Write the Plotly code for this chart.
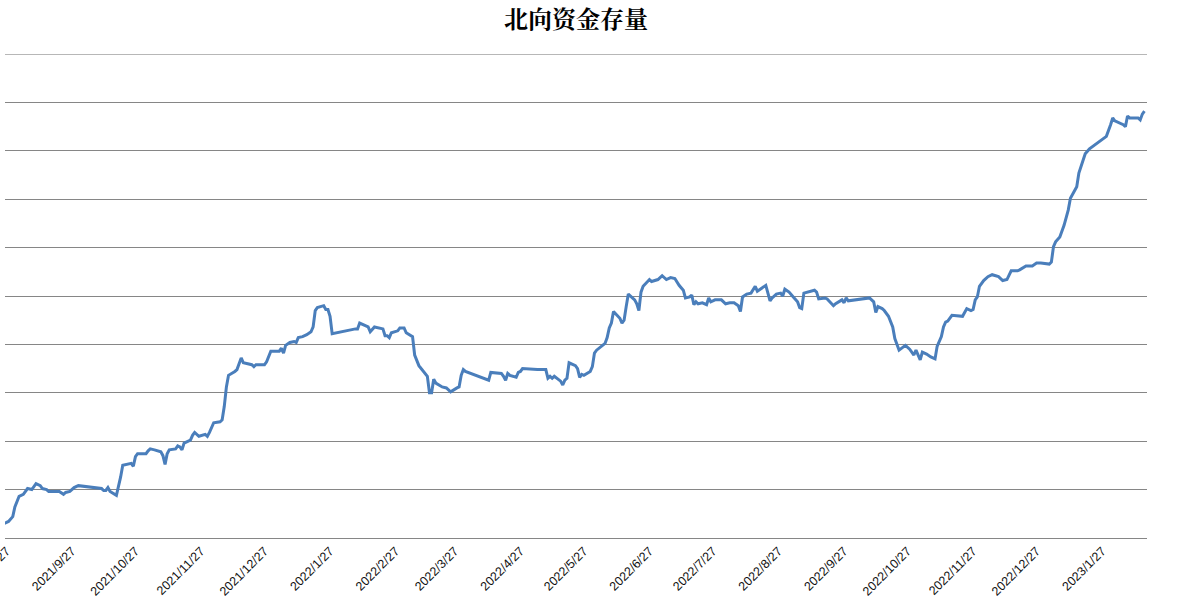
import plotly.graph_objects as go

# 北向资金存量 (亿元)
dates = [
    "2021-08-26", "2021-08-28", "2021-08-30", "2021-08-31", "2021-09-02", "2021-09-04",
    "2021-09-06", "2021-09-08", "2021-09-10", "2021-09-12", "2021-09-13", "2021-09-15",
    "2021-09-16", "2021-09-21", "2021-09-23", "2021-09-24", "2021-09-26", "2021-09-28",
    "2021-09-30", "2021-10-11", "2021-10-12", "2021-10-13", "2021-10-14", "2021-10-15",
    "2021-10-18", "2021-10-19", "2021-10-20", "2021-10-21", "2021-10-24", "2021-10-25",
    "2021-10-26", "2021-10-27", "2021-10-28", "2021-11-01", "2021-11-02", "2021-11-03",
    "2021-11-05", "2021-11-08", "2021-11-09", "2021-11-10", "2021-11-11", "2021-11-12",
    "2021-11-15", "2021-11-16", "2021-11-17", "2021-11-18", "2021-11-19", "2021-11-22",
    "2021-11-23", "2021-11-24", "2021-11-26", "2021-11-29", "2021-11-30", "2021-12-01",
    "2021-12-03", "2021-12-06", "2021-12-07", "2021-12-08", "2021-12-09", "2021-12-10",
    "2021-12-13", "2021-12-14", "2021-12-15", "2021-12-16", "2021-12-17", "2021-12-20",
    "2021-12-21", "2021-12-22", "2021-12-23", "2021-12-27", "2021-12-28", "2021-12-30",
    "2022-01-03", "2022-01-04", "2022-01-05", "2022-01-06", "2022-01-08", "2022-01-10",
    "2022-01-11", "2022-01-12", "2022-01-14", "2022-01-16", "2022-01-18", "2022-01-19",
    "2022-01-20", "2022-01-21", "2022-01-24", "2022-01-25", "2022-01-26", "2022-01-27",
    "2022-01-28", "2022-02-08", "2022-02-09", "2022-02-10", "2022-02-11", "2022-02-14",
    "2022-02-15", "2022-02-17", "2022-02-21", "2022-02-22", "2022-02-23", "2022-02-24",
    "2022-02-25", "2022-02-28", "2022-03-01", "2022-03-03", "2022-03-04", "2022-03-07",
    "2022-03-08", "2022-03-10", "2022-03-14", "2022-03-15", "2022-03-16", "2022-03-17",
    "2022-03-18", "2022-03-21", "2022-03-23", "2022-03-25", "2022-03-28", "2022-03-29",
    "2022-03-30", "2022-03-31", "2022-04-01", "2022-04-06", "2022-04-07", "2022-04-11",
    "2022-04-12", "2022-04-13", "2022-04-18", "2022-04-19", "2022-04-20", "2022-04-21",
    "2022-04-22", "2022-04-25", "2022-04-26", "2022-04-27", "2022-04-28", "2022-05-05",
    "2022-05-09", "2022-05-10", "2022-05-11", "2022-05-12", "2022-05-13", "2022-05-16",
    "2022-05-17", "2022-05-18", "2022-05-19", "2022-05-20", "2022-05-23", "2022-05-24",
    "2022-05-25", "2022-05-26", "2022-05-27", "2022-05-30", "2022-05-31", "2022-06-01",
    "2022-06-02", "2022-06-06", "2022-06-07", "2022-06-08", "2022-06-09", "2022-06-10",
    "2022-06-13", "2022-06-14", "2022-06-15", "2022-06-16", "2022-06-17", "2022-06-20",
    "2022-06-21", "2022-06-22", "2022-06-23", "2022-06-24", "2022-06-27", "2022-06-28",
    "2022-07-01", "2022-07-03", "2022-07-05", "2022-07-07", "2022-07-09", "2022-07-11",
    "2022-07-13", "2022-07-14", "2022-07-16", "2022-07-17", "2022-07-18", "2022-07-19",
    "2022-07-20", "2022-07-22", "2022-07-24", "2022-07-25", "2022-07-26", "2022-07-28",
    "2022-07-31", "2022-08-02", "2022-08-04", "2022-08-06", "2022-08-08", "2022-08-09",
    "2022-08-10", "2022-08-12", "2022-08-14", "2022-08-16", "2022-08-17", "2022-08-21",
    "2022-08-23", "2022-08-24", "2022-08-26", "2022-08-28", "2022-08-29", "2022-08-30",
    "2022-09-01", "2022-09-03", "2022-09-05", "2022-09-06", "2022-09-07", "2022-09-08",
    "2022-09-10", "2022-09-13", "2022-09-14", "2022-09-15", "2022-09-18", "2022-09-19",
    "2022-09-22", "2022-09-23", "2022-09-26", "2022-09-27", "2022-09-28", "2022-09-29",
    "2022-10-09", "2022-10-11", "2022-10-12", "2022-10-13", "2022-10-15", "2022-10-16",
    "2022-10-18", "2022-10-20", "2022-10-21", "2022-10-23", "2022-10-26", "2022-10-28",
    "2022-10-30", "2022-10-31", "2022-11-02", "2022-11-03", "2022-11-05", "2022-11-07",
    "2022-11-09", "2022-11-10", "2022-11-12", "2022-11-13", "2022-11-14", "2022-11-15",
    "2022-11-17", "2022-11-21", "2022-11-22", "2022-11-24", "2022-11-26", "2022-11-27",
    "2022-11-28", "2022-11-29", "2022-11-30", "2022-12-02", "2022-12-04", "2022-12-06",
    "2022-12-09", "2022-12-11", "2022-12-13", "2022-12-15", "2022-12-18", "2022-12-19",
    "2022-12-22", "2022-12-25", "2022-12-27", "2022-12-29", "2023-01-02", "2023-01-03",
    "2023-01-04", "2023-01-05", "2023-01-07", "2023-01-09", "2023-01-11", "2023-01-12",
    "2023-01-15", "2023-01-16", "2023-01-18", "2023-01-19", "2023-01-21", "2023-01-29",
    "2023-01-31", "2023-02-01", "2023-02-02", "2023-02-04", "2023-02-06", "2023-02-07",
    "2023-02-08", "2023-02-09", "2023-02-13", "2023-02-14", "2023-02-15", "2023-02-16",
]

stock = [
    13650, 13670, 13720, 13820, 13930, 13950,
    14010, 14000, 14060, 14040, 14010, 14000,
    13980, 13980, 13950, 13970, 13980, 14020,
    14040, 14010, 13990, 13990, 14020, 13980,
    13940, 14030, 14130, 14250, 14260, 14270,
    14240, 14340, 14370, 14370, 14400, 14420,
    14410, 14390, 14350, 14260, 14370, 14410,
    14420, 14450, 14440, 14410, 14480, 14510,
    14560, 14590, 14550, 14570, 14550, 14590,
    14690, 14700, 14720, 14860, 15060, 15180,
    15220, 15240, 15300, 15360, 15310, 15300,
    15290, 15270, 15290, 15290, 15320, 15430,
    15430, 15460, 15410, 15490, 15520, 15530,
    15520, 15570, 15580, 15600, 15630, 15680,
    15850, 15880, 15900, 15860, 15860, 15790,
    15610, 15660, 15660, 15720, 15710, 15680,
    15630, 15680, 15660, 15590, 15590, 15570,
    15620, 15640, 15670, 15670, 15620, 15580,
    15390, 15280, 15170, 15000, 15000, 15140,
    15100, 15060, 15050, 15010, 15050, 15060,
    15180, 15240, 15220, 15180, 15170, 15140,
    15130, 15210, 15200, 15170, 15130, 15200,
    15180, 15160, 15210, 15220, 15250, 15240,
    15240, 15150, 15170, 15150, 15170, 15120,
    15080, 15130, 15150, 15310, 15280, 15250,
    15160, 15190, 15180, 15220, 15270, 15410,
    15440, 15510, 15570, 15670, 15720, 15840,
    15770, 15720, 15750, 15890, 16020, 15960,
    15920, 15850, 16040, 16100, 16170, 16150,
    16170, 16210, 16170, 16190, 16180, 16110,
    16060, 15980, 15990, 16010, 15910, 15940,
    15920, 15930, 15910, 15980, 15940, 15960,
    15960, 15920, 15930, 15930, 15900, 15840,
    15990, 16020, 16030, 16100, 16050, 16110,
    15950, 15980, 16020, 16030, 16000, 16070,
    16040, 15990, 15940, 15880, 15870, 16030,
    16040, 16060, 16040, 15970, 15980, 15970,
    15900, 15920, 15960, 15930, 15980, 15950,
    15980, 15940, 15830, 15890, 15870, 15850,
    15790, 15680, 15560, 15440, 15490, 15450,
    15390, 15440, 15340, 15420, 15400, 15370,
    15350, 15480, 15580, 15680, 15730, 15740,
    15800, 15790, 15790, 15870, 15850, 15860,
    15960, 15990, 16100, 16160, 16200, 16220,
    16200, 16160, 16170, 16260, 16260, 16270,
    16310, 16310, 16340, 16340, 16330, 16350,
    16510, 16560, 16610, 16730, 16890, 17010,
    17130, 17270, 17390, 17470, 17520, 17650,
    17770, 17840, 17810, 17790, 17770, 17750,
    17860, 17840, 17840, 17820, 17880, 17910,
]

tick_dates = [
    "2021-08-27", "2021-09-27", "2021-10-27", "2021-11-27", "2021-12-27",
    "2022-01-27", "2022-02-27", "2022-03-27", "2022-04-27", "2022-05-27",
    "2022-06-27", "2022-07-27", "2022-08-27", "2022-09-27", "2022-10-27",
    "2022-11-27", "2022-12-27", "2023-01-27",
]
tick_labels = [
    "2021/8/27", "2021/9/27", "2021/10/27", "2021/11/27", "2021/12/27",
    "2022/1/27", "2022/2/27", "2022/3/27", "2022/4/27", "2022/5/27",
    "2022/6/27", "2022/7/27", "2022/8/27", "2022/9/27", "2022/10/27",
    "2022/11/27", "2022/12/27", "2023/1/27",
]

Y_MIN, Y_MAX, Y_STEP = 13500, 18500, 500
GRID = "#868686"

fig = go.Figure(go.Scatter(
    x=dates, y=stock, mode="lines",
    line=dict(color="#4a7ebb", width=3),
    hovertemplate="%{x|%Y/%m/%d}<br>%{y:,.0f} 亿元<extra></extra>",
))

fig.update_layout(
    width=1177, height=606,
    margin=dict(l=5, r=30, t=54, b=68, autoexpand=False),
    paper_bgcolor="white", plot_bgcolor="white",
    showlegend=False,
    title=dict(
        text="<b>北向资金存量</b>",
        x=0.4894, xanchor="center", y=1 - 20 / 606, yanchor="middle",
        font=dict(family="Noto Serif CJK SC, Noto Sans CJK SC", size=24, color="#000000"),
    ),
    xaxis=dict(
        type="date", automargin=False,
        range=["2021-08-26 08:00", "2023-02-17 05:00"],
        tickmode="array", tickvals=tick_dates, ticktext=tick_labels,
        tickangle=-45, ticklabeloverflow="allow",
        tickfont=dict(family="Liberation Sans", size=12.5, color="#111111"),
        showgrid=False, showline=True, linecolor=GRID, linewidth=1,
        ticks="", zeroline=False,
    ),
    yaxis=dict(
        automargin=False,
        range=[Y_MIN - 1, Y_MAX + 1], dtick=Y_STEP, tick0=Y_MIN,
        showticklabels=False, showgrid=True, gridcolor=GRID, gridwidth=1,
        zeroline=False, showline=False, ticks="",
    ),
)

# plotly drops the gridline sitting on the top edge; draw it explicitly
fig.add_shape(type="line", xref="paper", x0=0, x1=1, yref="y", y0=Y_MAX, y1=Y_MAX,
              line=dict(color=GRID, width=1), layer="below")

# the page's default 8px body margin would shift the whole figure
fig.write_html(
    "out.html",
    config={"displayModeBar": False},
    post_script="document.body.style.margin='0';document.body.style.overflow='hidden';",
)
